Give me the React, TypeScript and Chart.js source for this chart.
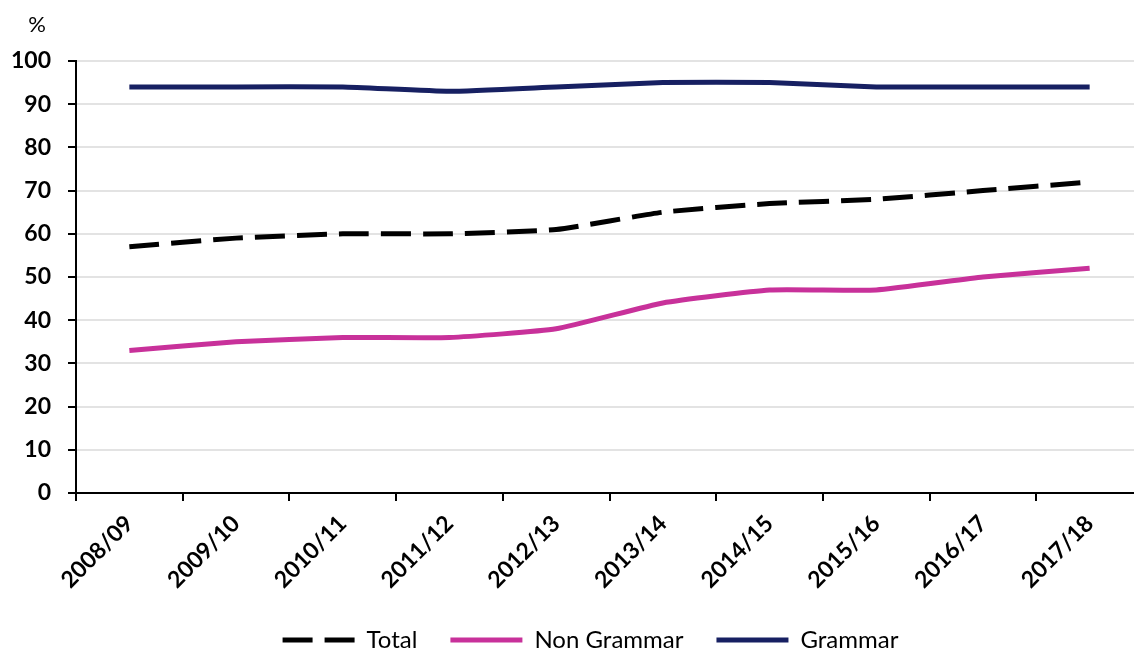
import React, { useEffect, useRef } from "react";
import { Chart, registerables } from "chart.js";

Chart.register(...registerables);

const categories = ["2008/09", "2009/10", "2010/11", "2011/12", "2012/13", "2013/14", "2014/15", "2015/16", "2016/17", "2017/18"];
const totalValues = [57, 59, 60, 60, 61, 65, 67, 68, 70, 72];
const nonGrammarValues = [33, 35, 36, 36, 38, 44, 47, 47, 50, 52];
const grammarValues = [94, 94, 94, 93, 94, 95, 95, 94, 94, 94];
const unitLabel = "%";

const FONT = "Lato, 'Open Sans', sans-serif";

const percentPlugin = {
  id: "percentLabel",
  afterLayout(chart: any) {
    if (chart.legend) {
      chart.legend.left += 19;
      chart.legend.right += 19;
    }
  },
  afterDraw(chart: any) {
    const ctx = chart.ctx;
    ctx.save();
    ctx.font = `22px ${FONT}`;
    ctx.fillStyle = "#000";
    ctx.textAlign = "center";
    ctx.textBaseline = "middle";
    ctx.fillText(unitLabel, 37, 25);
    ctx.restore();
  },
};

export default function App() {
  const ref = useRef<HTMLCanvasElement>(null);
  useEffect(() => {
    document.body.style.overflow = "hidden";
    const chart = new Chart(ref.current!, {
      type: "line",
      data: {
        labels: categories,
        datasets: [
          {
            label: "Total",
            data: totalValues,
            borderColor: "#000000",
            backgroundColor: "#000000",
            borderWidth: 5,
            borderDash: [30, 12],
            pointRadius: 0,
            tension: 0.15,
          },
          {
            label: "Non Grammar",
            data: nonGrammarValues,
            borderColor: "#C8319A",
            backgroundColor: "#C8319A",
            borderWidth: 5,
            pointRadius: 0,
            tension: 0.15,
          },
          {
            label: "Grammar",
            data: grammarValues,
            borderColor: "#172062",
            backgroundColor: "#172062",
            borderWidth: 5,
            pointRadius: 0,
            tension: 0.15,
          },
        ],
      },
      options: {
        animation: false,
        responsive: false,
        maintainAspectRatio: false,
        layout: { padding: { left: 0, right: 7, top: 61, bottom: 0 } },
        plugins: {
          tooltip: { enabled: false },
          legend: {
            position: "bottom",
            labels: {
              usePointStyle: true,
              pointStyle: "line",
              pointStyleWidth: 72,
              boxHeight: 20,
              padding: 33,
              color: "#000",
              font: { family: FONT, size: 24 },
              generateLabels(chart: any) {
                const items = Chart.defaults.plugins.legend.labels.generateLabels(chart);
                items.forEach((it: any) => {
                  const ds: any = chart.data.datasets[it.datasetIndex];
                  it.lineDash = ds.borderDash || [];
                  it.lineWidth = 5;
                  it.strokeStyle = ds.borderColor;
                });
                return items;
              },
            },
          },
        },
        scales: {
          x: {
            offset: true,
            grid: {
              offset: true,
              drawOnChartArea: false,
              drawTicks: true,
              tickLength: 8,
              tickColor: "#000",
              tickWidth: 2,
              lineWidth: 2,
              color: "#000",
            },
            border: { display: true, color: "#000", width: 2 },
            ticks: {
              color: "#000",
              font: { family: FONT, size: 23, weight: "bold" },
              minRotation: 45,
              maxRotation: 45,
              autoSkip: false,
              padding: 9,
            },
            afterFit(scale: any) {
              scale.height = 102;
            },
          },
          y: {
            min: 0,
            max: 100,
            ticks: {
              stepSize: 10,
              color: "#000",
              padding: 17,
              font: { family: FONT, size: 23, weight: "bold" },
            },
            grid: {
              color: "#E3E3E3",
              lineWidth: 2,
              tickColor: "#000",
              tickWidth: 2,
              tickLength: 8,
            },
            border: { display: true, color: "#000", width: 2 },
            afterFit(scale: any) {
              scale.width = 76;
            },
          },
        },
      },
      plugins: [percentPlugin],
    });
    return () => chart.destroy();
  }, []);
  return (
    <div style={{ position: "fixed", left: 0, top: 0, width: 1150, height: 662 }}>
      <canvas ref={ref} width={1150} height={662} style={{ width: 1150, height: 662 }} />
    </div>
  );
}
